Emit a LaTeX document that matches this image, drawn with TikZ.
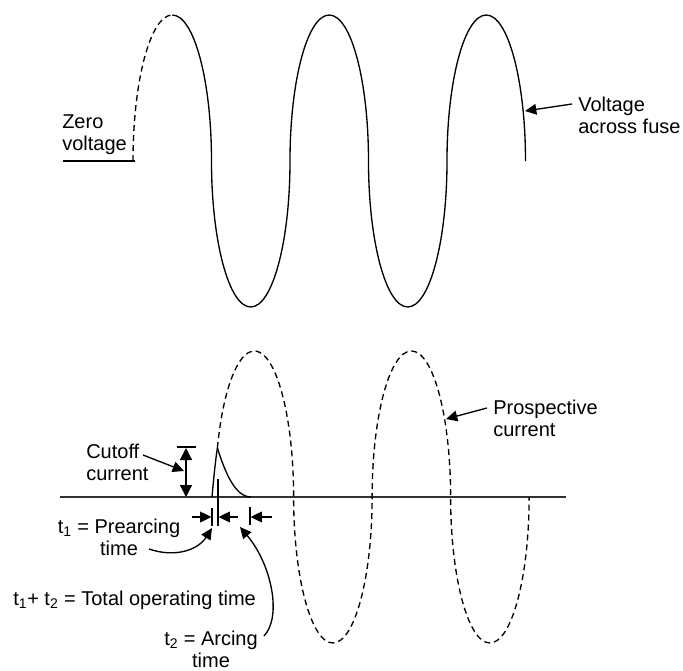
\documentclass[tikz,border=0pt]{standalone}
\usepackage{fontspec}
\setmainfont{Liberation Sans}
\usetikzlibrary{arrows.meta}
\begin{document}
\begin{tikzpicture}[x=0.75pt,y=-0.75pt,
  lbl/.style={font=\fontsize{15}{16.5}\selectfont, inner sep=0pt},
  wave/.style={line width=1pt},
  dwave/.style={line width=1pt, dash pattern=on 4.5pt off 3pt},
  tri/.style={-{Triangle[length=8.5pt,width=8pt]}, line width=1pt},
  dbl/.style={{Triangle[length=9pt,width=9pt]}-{Triangle[length=9pt,width=9pt]}, line width=1pt},
  bar/.style={line width=1pt},
  axis/.style={line width=1.3pt, black!80},
  lp/.style={x radius=39.25, y radius=146},
]
\useasboundingbox (0,0) rectangle (683,671);

% ---------- top: voltage across fuse ----------
\coordinate (z0) at (63,161);
\coordinate (z1) at (135,161);
\coordinate (vs) at (133,161);
\coordinate (vpk) at (172.25,15);
\draw[line width=1pt] (z0) -- (z1);
\draw[dwave] (vs) arc[start angle=180, end angle=270, lp];
\draw[wave] (vpk) arc[start angle=270, end angle=360, lp]
  arc[start angle=180, end angle=0, lp]
  arc[start angle=180, end angle=360, lp]
  arc[start angle=180, end angle=0, lp]
  arc[start angle=180, end angle=360, lp];

\node[lbl, anchor=west, align=left] (zerolbl) at (62,134.5) {Zero\\voltage};
\node[lbl, anchor=west, align=left] (vlbl) at (578,115) {Voltage\\across fuse};
\coordinate (vtail) at (572,104);
\coordinate (vtip) at (525,111);
\draw[tri] (vtail) -- (vtip);

% ---------- bottom: current ----------
\coordinate (a0) at (60,497);
\coordinate (a1) at (566,497);
\draw[axis] (a0) -- (a1);

\coordinate (cs) at (212,497);
\coordinate (pk) at (217.4,448);
\coordinate (pend) at (251,497);
\draw[dwave] (pk) arc[start angle=199.6, end angle=360, lp]
  arc[start angle=180, end angle=0, lp]
  arc[start angle=180, end angle=360, lp]
  arc[start angle=180, end angle=0, lp];
\draw[wave] (cs) .. controls (213.5,480) and (215.5,460) .. (pk);
\draw[wave] (pk) .. controls (225,472) and (235,497) .. (pend);

% prospective current label
\node[lbl, anchor=west, align=left] (plbl) at (493,418.5) {Prospective\\current};
\coordinate (ptail) at (487,408);
\coordinate (ptip) at (446,419);
\draw[tri] (ptail) -- (ptip);

% cutoff current
\node[lbl, anchor=west, align=left] (cutlbl) at (86,462.5) {Cutoff\\current};
\coordinate (cbarL) at (177,447);
\coordinate (cbarR) at (196,447);
\draw[bar] (cbarL) -- (cbarR);
\coordinate (ctop) at (186,448);
\coordinate (cbot) at (186,497);
\draw[dbl] (ctop) -- (cbot);
\coordinate (ctail) at (143,455);
\coordinate (ctip) at (184,471);
\draw[tri] (ctail) -- (ctip);

% time marks
\coordinate (b1t) at (212,508);
\coordinate (b1b) at (212,526);
\draw[bar] (b1t) -- (b1b);
\coordinate (b2t) at (218,479);
\coordinate (b2b) at (218,526);
\draw[bar] (b2t) -- (b2b);
\coordinate (b3t) at (250,507);
\coordinate (b3b) at (250,525);
\draw[bar] (b3t) -- (b3b);

\coordinate (d1a) at (192,517);
\coordinate (d1b) at (211.5,517);
\draw[tri] (d1a) -- (d1b);
\coordinate (d2a) at (238,517);
\coordinate (d2b) at (218.5,517);
\draw[tri] (d2a) -- (d2b);
\coordinate (d3a) at (272,517);
\coordinate (d3b) at (250.5,517);
\draw[tri] (d3a) -- (d3b);

% labels for times
\node[lbl, align=center] (t1lbl) at (119,537) {t\textsubscript{1} = Prearcing\\time};
\node[lbl, anchor=west] (totlbl) at (13,600) {t\textsubscript{1}+ t\textsubscript{2} = Total operating time};
\node[lbl, align=center] (t2lbl) at (211,649) {t\textsubscript{2} = Arcing\\time};

\coordinate (t1tail) at (149,549);
\coordinate (t1tip) at (212,528);
\draw[tri] (t1tail) .. controls (175,558) and (198,550) .. (t1tip);

\coordinate (t2tail) at (264,636);
\coordinate (t2tip) at (240,527);
\draw[tri] (t2tail) .. controls (282,617) and (272,565) .. (t2tip);
\end{tikzpicture}
\end{document}
